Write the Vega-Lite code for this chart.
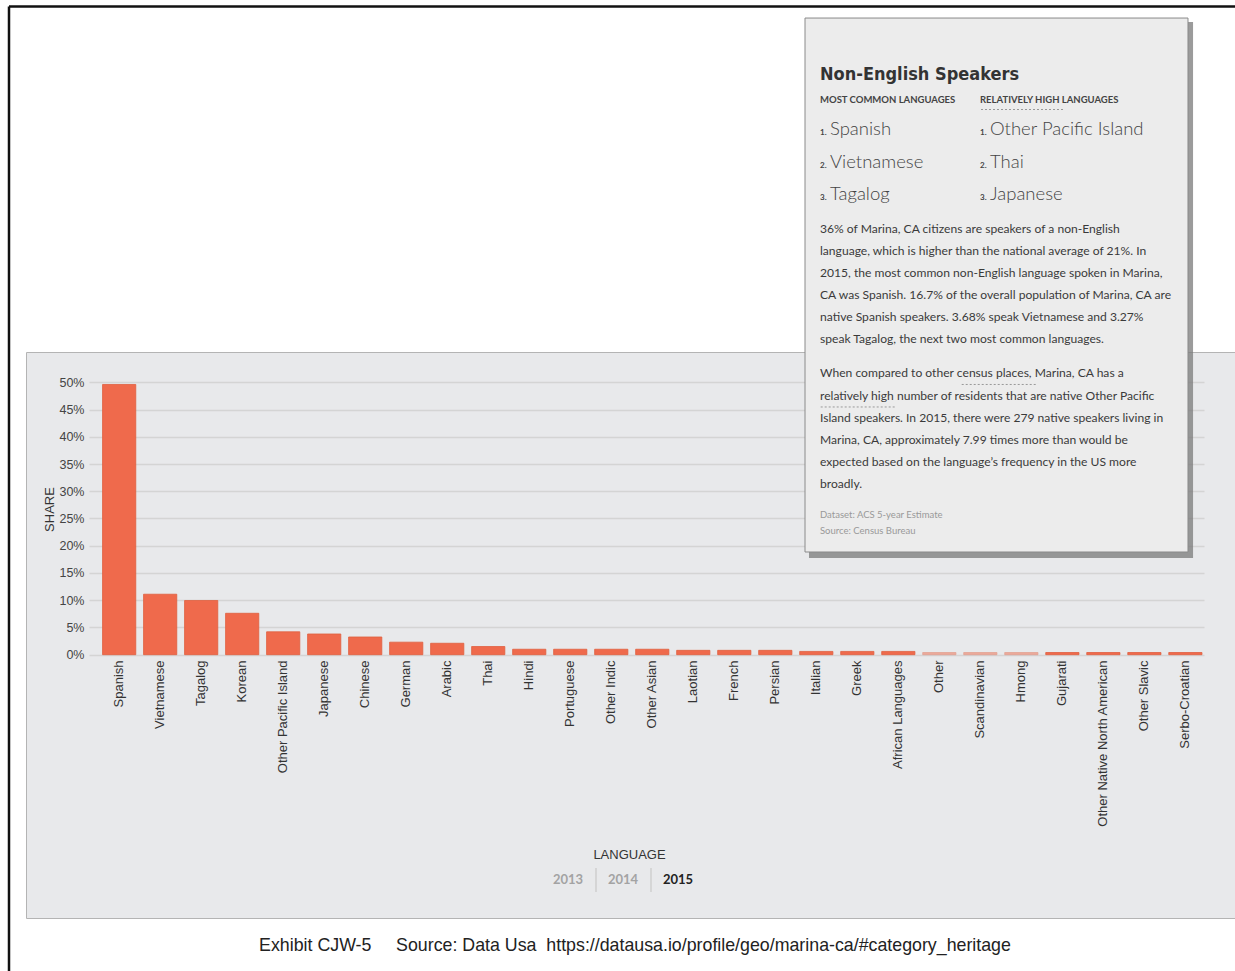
{
  "$schema": "https://vega.github.io/schema/vega-lite/v6.json",
  "width": 1209,
  "height": 566,
  "autosize": {"type": "none"},
  "padding": {"left": 26, "top": 352, "right": 0, "bottom": 53},
  "background": "white",
  "config": {
    "view": {"fill": "#e8e9eb", "stroke": "#b4b4b4", "strokeWidth": 1}
  },
  "data": {
    "values": [
      {"language": "Spanish", "share": 0.496},
      {"language": "Vietnamese", "share": 0.111},
      {"language": "Tagalog", "share": 0.0995},
      {"language": "Korean", "share": 0.076},
      {"language": "Other Pacific Island", "share": 0.042},
      {"language": "Japanese", "share": 0.038},
      {"language": "Chinese", "share": 0.0325},
      {"language": "German", "share": 0.023},
      {"language": "Arabic", "share": 0.021},
      {"language": "Thai", "share": 0.015},
      {"language": "Hindi", "share": 0.010},
      {"language": "Portuguese", "share": 0.010},
      {"language": "Other Indic", "share": 0.010},
      {"language": "Other Asian", "share": 0.010},
      {"language": "Laotian", "share": 0.008},
      {"language": "French", "share": 0.008},
      {"language": "Persian", "share": 0.008},
      {"language": "Italian", "share": 0.006},
      {"language": "Greek", "share": 0.006},
      {"language": "African Languages", "share": 0.006},
      {"language": "Other", "share": 0.004},
      {"language": "Scandinavian", "share": 0.004},
      {"language": "Hmong", "share": 0.004},
      {"language": "Gujarati", "share": 0.004},
      {"language": "Other Native North American", "share": 0.004},
      {"language": "Other Slavic", "share": 0.004},
      {"language": "Serbo-Croatian", "share": 0.004}
    ]
  },
  "layer": [
    {
      "mark": {"type": "bar", "color": "#ef6a4c", "stroke": "#e0603f", "strokeWidth": 0.8},
      "encoding": {
        "x": {
          "field": "language", "type": "nominal", "sort": null,
          "scale": {"range": [63, 1178], "paddingInner": 0.19, "paddingOuter": 0.19, "align": 0.87},
          "axis": {
            "title": "LANGUAGE", "offset": -263, "labelAngle": -90, "labelPadding": 5,
            "ticks": false, "domain": false, "grid": false, "labelLimit": 400,
            "labelFont": "Liberation Sans", "labelFontSize": 13, "labelColor": "#333",
            "titleFont": "Liberation Sans", "titleFontSize": 13, "titleFontWeight": "normal", "titleColor": "#333",
            "titleX": 603, "titleY": 199, "titleBaseline": "middle", "titleAlign": "center"
          }
        },
        "y": {
          "field": "share", "type": "quantitative",
          "scale": {"domain": [-0.4833, 0.5556], "nice": false, "zero": false},
          "axis": {
            "title": "SHARE", "values": [0, 0.05, 0.1, 0.15, 0.2, 0.25, 0.3, 0.35, 0.4, 0.45, 0.5],
            "format": ".0%", "offset": -63, "grid": true, "gridColor": "#d4d4d4", "gridWidth": 1.5,
            "ticks": false, "domain": false, "labelPadding": 5,
            "labelFont": "Liberation Sans", "labelFontSize": 12.5, "labelColor": "#444",
            "titleFont": "Liberation Sans", "titleFontSize": 13, "titleFontWeight": "normal", "titleColor": "#333",
            "titleX": -40, "titleY": 157, "titleAngle": -90, "titleAlign": "center", "titleBaseline": "middle"
          }
        },
        "opacity": {"condition": {"test": "indexof(['Other','Scandinavian','Hmong'], datum.language) >= 0", "value": 0.5}, "value": 1}
      }
    },
    {
      "data": {"values": [{}]},
      "layer": [
        {
          "mark": {"type": "rule", "color": "#111", "strokeWidth": 2.5},
          "encoding": {
            "x": {"datum": -0.01406, "type": "quantitative", "scale": {"domain": [0, 1], "nice": false, "zero": false}, "axis": null},
            "x2": {"datum": 1.0083},
            "y": {"datum": 1.1898, "type": "quantitative", "scale": {"domain": [-0.4833, 0.5556], "nice": false, "zero": false}, "axis": null}
          }
        },
        {
          "mark": {"type": "rule", "color": "#111", "strokeWidth": 2.5},
          "encoding": {
            "x": {"datum": -0.01406, "type": "quantitative", "scale": {"domain": [0, 1], "nice": false, "zero": false}, "axis": null},
            "y": {"datum": 1.1898, "type": "quantitative", "scale": {"domain": [-0.4833, 0.5556], "nice": false, "zero": false}, "axis": null},
            "y2": {"datum": -0.6154}
          }
        },
        {
          "mark": {"type": "text", "text": "Exhibit CJW-5\u00a0\u00a0\u00a0\u00a0 Source: Data Usa\u00a0 https://datausa.io/profile/geo/marina-ca/#category_heritage", "align": "center", "baseline": "middle", "font": "Liberation Sans", "fontSize": 17.8, "color": "#222"},
          "encoding": {
            "x": {"datum": 0.50372, "type": "quantitative", "scale": {"domain": [0, 1], "nice": false, "zero": false}, "axis": null},
            "y": {"datum": -0.5347, "type": "quantitative", "scale": {"domain": [-0.4833, 0.5556], "nice": false, "zero": false}, "axis": null}
          }
        },
        {
          "mark": {"type": "rect", "fill": "#7a7a7a", "opacity": 0.75},
          "encoding": {
            "x": {"datum": 0.64764, "type": "quantitative", "scale": {"domain": [0, 1], "nice": false, "zero": false}, "axis": null},
            "x2": {"datum": 0.9653},
            "y": {"datum": 1.1613, "type": "quantitative", "scale": {"domain": [-0.4833, 0.5556], "nice": false, "zero": false}, "axis": null},
            "y2": {"datum": 0.1775}
          }
        },
        {
          "mark": {"type": "rect", "fill": "#ececec", "stroke": "#8a8a8a", "strokeWidth": 1},
          "encoding": {
            "x": {"datum": 0.64434, "type": "quantitative", "scale": {"domain": [0, 1], "nice": false, "zero": false}, "axis": null},
            "x2": {"datum": 0.96112},
            "y": {"datum": 1.1686, "type": "quantitative", "scale": {"domain": [-0.4833, 0.5556], "nice": false, "zero": false}, "axis": null},
            "y2": {"datum": 0.1885}
          }
        },
        {
          "mark": {"type": "text", "text": "Non-English Speakers", "align": "left", "baseline": "alphabetic", "font": "DejaVu Sans Condensed", "fontSize": 18, "fontWeight": "bold", "color": "#333"},
          "encoding": {
            "x": {"datum": 0.65674, "type": "quantitative", "scale": {"domain": [0, 1], "nice": false, "zero": false}, "axis": null},
            "y": {"datum": 1.0555, "type": "quantitative", "scale": {"domain": [-0.4833, 0.5556], "nice": false, "zero": false}, "axis": null}
          }
        },
        {
          "mark": {"type": "text", "text": "MOST COMMON LANGUAGES", "align": "left", "baseline": "alphabetic", "font": "Lato", "fontSize": 9.5, "fontWeight": "bold", "color": "#444"},
          "encoding": {
            "x": {"datum": 0.65674, "type": "quantitative", "scale": {"domain": [0, 1], "nice": false, "zero": false}, "axis": null},
            "y": {"datum": 1.0121, "type": "quantitative", "scale": {"domain": [-0.4833, 0.5556], "nice": false, "zero": false}, "axis": null}
          }
        },
        {
          "mark": {"type": "text", "text": "RELATIVELY HIGH LANGUAGES", "align": "left", "baseline": "alphabetic", "font": "Lato", "fontSize": 9.5, "fontWeight": "bold", "color": "#444"},
          "encoding": {
            "x": {"datum": 0.78908, "type": "quantitative", "scale": {"domain": [0, 1], "nice": false, "zero": false}, "axis": null},
            "y": {"datum": 1.0121, "type": "quantitative", "scale": {"domain": [-0.4833, 0.5556], "nice": false, "zero": false}, "axis": null}
          }
        },
        {
          "mark": {"type": "rule", "color": "#999", "strokeWidth": 1, "strokeDash": [2, 2]},
          "encoding": {
            "x": {"datum": 0.78991, "type": "quantitative", "scale": {"domain": [0, 1], "nice": false, "zero": false}, "axis": null},
            "x2": {"datum": 0.85774},
            "y": {"datum": 1.0007, "type": "quantitative", "scale": {"domain": [-0.4833, 0.5556], "nice": false, "zero": false}, "axis": null}
          }
        },
        {
          "mark": {"type": "rule", "color": "#999", "strokeWidth": 1, "strokeDash": [2, 2]},
          "encoding": {
            "x": {"datum": 0.77395, "type": "quantitative", "scale": {"domain": [0, 1], "nice": false, "zero": false}, "axis": null},
            "x2": {"datum": 0.83598},
            "y": {"datum": 0.496, "type": "quantitative", "scale": {"domain": [-0.4833, 0.5556], "nice": false, "zero": false}, "axis": null}
          }
        },
        {
          "mark": {"type": "rule", "color": "#999", "strokeWidth": 1, "strokeDash": [2, 2]},
          "encoding": {
            "x": {"datum": 0.65732, "type": "quantitative", "scale": {"domain": [0, 1], "nice": false, "zero": false}, "axis": null},
            "x2": {"datum": 0.72018},
            "y": {"datum": 0.4547, "type": "quantitative", "scale": {"domain": [-0.4833, 0.5556], "nice": false, "zero": false}, "axis": null}
          }
        },
        {
          "mark": {"type": "text", "text": ["1.", "2.", "3."], "lineHeight": 32.5, "align": "left", "baseline": "alphabetic", "font": "Lato", "fontSize": 8, "fontWeight": "bold", "color": "#444"},
          "encoding": {
            "x": {"datum": 0.65674, "type": "quantitative", "scale": {"domain": [0, 1], "nice": false, "zero": false}, "axis": null},
            "y": {"datum": 0.9539, "type": "quantitative", "scale": {"domain": [-0.4833, 0.5556], "nice": false, "zero": false}, "axis": null}
          }
        },
        {
          "mark": {"type": "text", "text": ["Spanish", "Vietnamese", "Tagalog"], "lineHeight": 32.5, "align": "left", "baseline": "alphabetic", "font": "Lato", "fontSize": 18.5, "fontWeight": 300, "color": "#444"},
          "encoding": {
            "x": {"datum": 0.66501, "type": "quantitative", "scale": {"domain": [0, 1], "nice": false, "zero": false}, "axis": null},
            "y": {"datum": 0.9539, "type": "quantitative", "scale": {"domain": [-0.4833, 0.5556], "nice": false, "zero": false}, "axis": null}
          }
        },
        {
          "mark": {"type": "text", "text": ["1.", "2.", "3."], "lineHeight": 32.5, "align": "left", "baseline": "alphabetic", "font": "Lato", "fontSize": 8, "fontWeight": "bold", "color": "#444"},
          "encoding": {
            "x": {"datum": 0.78908, "type": "quantitative", "scale": {"domain": [0, 1], "nice": false, "zero": false}, "axis": null},
            "y": {"datum": 0.9539, "type": "quantitative", "scale": {"domain": [-0.4833, 0.5556], "nice": false, "zero": false}, "axis": null}
          }
        },
        {
          "mark": {"type": "text", "text": ["Other Pacific Island", "Thai", "Japanese"], "lineHeight": 32.5, "align": "left", "baseline": "alphabetic", "font": "Lato", "fontSize": 18.5, "fontWeight": 300, "color": "#444"},
          "encoding": {
            "x": {"datum": 0.79735, "type": "quantitative", "scale": {"domain": [0, 1], "nice": false, "zero": false}, "axis": null},
            "y": {"datum": 0.9539, "type": "quantitative", "scale": {"domain": [-0.4833, 0.5556], "nice": false, "zero": false}, "axis": null}
          }
        },
        {
          "mark": {"type": "text", "text": [
            "36% of Marina, CA citizens are speakers of a non-English",
            "language, which is higher than the national average of 21%. In",
            "2015, the most common non-English language spoken in Marina,",
            "CA was Spanish. 16.7% of the overall population of Marina, CA are",
            "native Spanish speakers. 3.68% speak Vietnamese and 3.27%",
            "speak Tagalog, the next two most common languages."
          ], "lineHeight": 22.06, "align": "left", "baseline": "alphabetic", "font": "Lato", "fontSize": 12.1, "color": "#3a3a3a"},
          "encoding": {
            "x": {"datum": 0.65674, "type": "quantitative", "scale": {"domain": [0, 1], "nice": false, "zero": false}, "axis": null},
            "y": {"datum": 0.774, "type": "quantitative", "scale": {"domain": [-0.4833, 0.5556], "nice": false, "zero": false}, "axis": null}
          }
        },
        {
          "mark": {"type": "text", "text": [
            "When compared to other census places, Marina, CA has a",
            "relatively high number of residents that are native Other Pacific",
            "Island speakers. In 2015, there were 279 native speakers living in",
            "Marina, CA, approximately 7.99 times more than would be",
            "expected based on the language’s frequency in the US more",
            "broadly."
          ], "lineHeight": 22.1, "align": "left", "baseline": "alphabetic", "font": "Lato", "fontSize": 12.1, "color": "#3a3a3a"},
          "encoding": {
            "x": {"datum": 0.65674, "type": "quantitative", "scale": {"domain": [0, 1], "nice": false, "zero": false}, "axis": null},
            "y": {"datum": 0.5088, "type": "quantitative", "scale": {"domain": [-0.4833, 0.5556], "nice": false, "zero": false}, "axis": null}
          }
        },
        {
          "mark": {"type": "text", "text": ["Dataset: ACS 5-year Estimate", "Source: Census Bureau"], "lineHeight": 16.7, "align": "left", "baseline": "alphabetic", "font": "Lato", "fontSize": 9.5, "color": "#999"},
          "encoding": {
            "x": {"datum": 0.65674, "type": "quantitative", "scale": {"domain": [0, 1], "nice": false, "zero": false}, "axis": null},
            "y": {"datum": 0.2518, "type": "quantitative", "scale": {"domain": [-0.4833, 0.5556], "nice": false, "zero": false}, "axis": null}
          }
        },
        {
          "mark": {"type": "text", "text": "2013", "align": "center", "baseline": "middle", "font": "Lato", "fontSize": 13, "fontWeight": "bold", "color": "#a3a3a3"},
          "encoding": {
            "x": {"datum": 0.44831, "type": "quantitative", "scale": {"domain": [0, 1], "nice": false, "zero": false}, "axis": null},
            "y": {"datum": -0.4136, "type": "quantitative", "scale": {"domain": [-0.4833, 0.5556], "nice": false, "zero": false}, "axis": null}
          }
        },
        {
          "mark": {"type": "text", "text": "2014", "align": "center", "baseline": "middle", "font": "Lato", "fontSize": 13, "fontWeight": "bold", "color": "#a3a3a3"},
          "encoding": {
            "x": {"datum": 0.4938, "type": "quantitative", "scale": {"domain": [0, 1], "nice": false, "zero": false}, "axis": null},
            "y": {"datum": -0.4136, "type": "quantitative", "scale": {"domain": [-0.4833, 0.5556], "nice": false, "zero": false}, "axis": null}
          }
        },
        {
          "mark": {"type": "text", "text": "2015", "align": "center", "baseline": "middle", "font": "Lato", "fontSize": 13, "fontWeight": "bold", "color": "#222"},
          "encoding": {
            "x": {"datum": 0.53929, "type": "quantitative", "scale": {"domain": [0, 1], "nice": false, "zero": false}, "axis": null},
            "y": {"datum": -0.4136, "type": "quantitative", "scale": {"domain": [-0.4833, 0.5556], "nice": false, "zero": false}, "axis": null}
          }
        },
        {
          "mark": {"type": "rule", "color": "#cfcfcf", "strokeWidth": 1.5},
          "encoding": {
            "x": {"datum": 0.47146, "type": "quantitative", "scale": {"domain": [0, 1], "nice": false, "zero": false}, "axis": null},
            "y": {"datum": -0.3916, "type": "quantitative", "scale": {"domain": [-0.4833, 0.5556], "nice": false, "zero": false}, "axis": null},
            "y2": {"datum": -0.4357}
          }
        },
        {
          "mark": {"type": "rule", "color": "#cfcfcf", "strokeWidth": 1.5},
          "encoding": {
            "x": {"datum": 0.51696, "type": "quantitative", "scale": {"domain": [0, 1], "nice": false, "zero": false}, "axis": null},
            "y": {"datum": -0.3916, "type": "quantitative", "scale": {"domain": [-0.4833, 0.5556], "nice": false, "zero": false}, "axis": null},
            "y2": {"datum": -0.4357}
          }
        }
      ]
    }
  ],
  "resolve": {"scale": {"x": "independent", "y": "independent"}}
}
